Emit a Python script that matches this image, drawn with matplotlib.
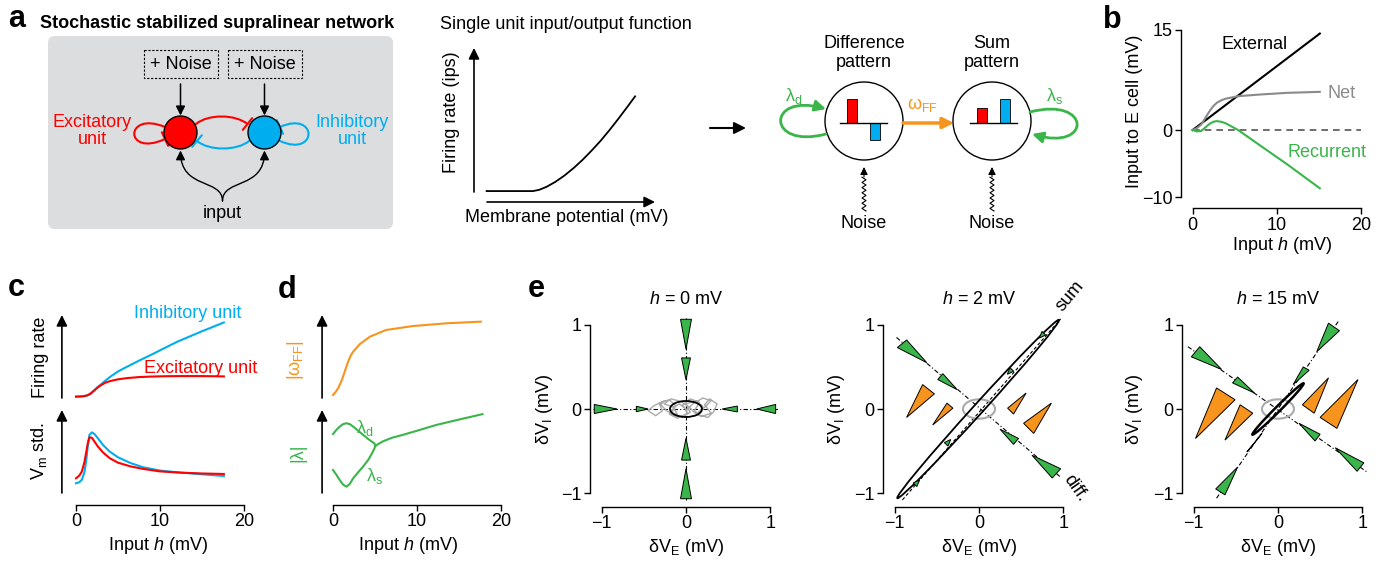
import numpy as np
import matplotlib
matplotlib.use("Agg")
import matplotlib.pyplot as plt
import matplotlib.patches as patches
from matplotlib.path import Path

plt.rcParams['font.family'] = 'Liberation Sans'
plt.rcParams['mathtext.fontset'] = 'custom'
plt.rcParams['mathtext.rm'] = 'Liberation Sans'
plt.rcParams['mathtext.it'] = 'Liberation Sans:italic'
plt.rcParams['mathtext.bf'] = 'Liberation Sans:bold'
plt.rcParams['font.size'] = 13
plt.rcParams['axes.linewidth'] = 1.0

RED = '#ff0000'
BLUE = '#00aeef'
GREEN = '#39b54a'
ORANGE = '#f7941d'
GRAY = '#8a8a8a'

# ---------------- data ----------------
# a: single unit input/output function (arbitrary units)
io_v = [0.7, 1.5, 2.5, 3.26, 3.6, 4.0, 4.5, 5.0, 5.5, 6.0, 6.5, 7.0, 7.5, 8.0, 8.5, 8.9]
io_rate = [0.71, 0.71, 0.71, 0.71, 0.79, 0.98, 1.31, 1.72, 2.2, 2.74, 3.34, 3.98, 4.69, 5.44,
           6.22, 6.86]
# a: E / I components of the difference and sum patterns
pattern_units = [0, 1]
diff_pattern = [1.0, -0.7]
sum_pattern = [0.63, 1.0]

# b: input to E cell (mV) vs input h (mV)
b_h_ext = [0, 15.1]
b_ext = [0, 14.4]
b_h = [0, 0.5, 1.0, 1.3, 1.7, 2.1, 2.5, 2.9, 3.5, 4.0, 5.4, 8.0, 11.2, 15.1]
b_net = [0, 0.28, 0.8, 1.39, 2.2, 3.0, 3.63, 4.1, 4.5, 4.7, 5.05, 5.3, 5.55, 5.7]
b_rec = [0, -0.2, -0.15, 0.15, 0.6, 1.0, 1.25, 1.33, 1.2, 0.95, 0.0, -2.3, -5.1, -8.7]

# c: firing rates (a.u.)
c_h_rate = [0, 0.8, 1.3, 1.7, 2.1, 2.5, 2.9, 3.5, 4.1, 5.0, 6.1, 7.5, 8.9, 10.5, 12.1, 14.9, 17.6]
c_rate_I = [0.016, 0.02, 0.03, 0.05, 0.085, 0.125, 0.157, 0.21, 0.257, 0.32, 0.378, 0.45, 0.518,
            0.60, 0.68, 0.80, 0.91]
c_rate_E = [0.016, 0.02, 0.03, 0.05, 0.085, 0.12, 0.15, 0.185, 0.205, 0.225, 0.24, 0.252, 0.258,
            0.262, 0.264, 0.264, 0.26]
# c: membrane potential std (a.u.)
c_h_std = [0, 0.4, 0.7, 1.0, 1.2, 1.4, 1.6, 1.9, 2.2, 2.6, 3.2, 4.0, 5.0, 6.5, 8.0, 10, 12.5, 15, 17.6]
c_std_I = [0.117, 0.13, 0.16, 0.25, 0.38, 0.56, 0.70, 0.73, 0.71, 0.66, 0.58, 0.50, 0.43, 0.36,
           0.31, 0.27, 0.245, 0.225, 0.205]
c_std_E = [0.177, 0.21, 0.26, 0.37, 0.48, 0.60, 0.67, 0.665, 0.62, 0.56, 0.49, 0.42, 0.365, 0.32,
           0.29, 0.26, 0.245, 0.235, 0.229]

# d: feedforward weight and eigenvalue magnitudes (a.u.)
d_h_w = [0, 0.3, 0.6, 0.9, 1.2, 1.5, 1.8, 2.1, 2.4, 3.2, 4.4, 6.3, 9.5, 13.5, 17.6]
d_w = [0.036, 0.07, 0.117, 0.18, 0.257, 0.35, 0.438, 0.51, 0.558, 0.65, 0.739, 0.819, 0.867, 0.9, 0.92]
d_h_split = [0, 0.4, 0.8, 1.2, 1.6, 2.0, 2.4, 3.0, 3.6, 4.2, 4.6, 4.9, 5.05]
d_lam_d = [0.71, 0.76, 0.80, 0.83, 0.84, 0.83, 0.80, 0.75, 0.70, 0.65, 0.62, 0.60, 0.57]
d_lam_s = [0.277, 0.22, 0.157, 0.10, 0.076, 0.11, 0.177, 0.25, 0.32, 0.40, 0.47, 0.53, 0.57]
d_h_merged = [5.05, 5.9, 7.0, 8.3, 10, 12.3, 15, 17.8]
d_lam_merged = [0.57, 0.62, 0.665, 0.70, 0.75, 0.82, 0.885, 0.95]

# e: flow triangles (vertices in mV), ellipses (cx, cy, w, h, angle), trajectory
e0_green = [
    [(-0.065, 1.066), (0.065, 1.066), (0, 0.71)],
    [(-0.053, 0.607), (0.053, 0.607), (0, 0.347)],
    [(-0.065, -1.066), (0.065, -1.066), (0, -0.71)],
    [(-0.053, -0.607), (0.053, -0.607), (0, -0.347)],
    [(-1.09, 0.054), (-1.09, -0.054), (-0.82, 0)],
    [(-0.59, 0.032), (-0.59, -0.032), (-0.45, 0)],
    [(1.065, 0.054), (1.065, -0.054), (0.84, 0)],
    [(0.61, 0.035), (0.61, -0.035), (0.43, 0)],
]
e0_ellipse = (0.0, 0.0, 0.38, 0.19, 0)
e0_traj_x = [0.0, -0.08, -0.15, -0.1, -0.22, -0.3, -0.25, -0.38, -0.45, -0.36, -0.28, -0.32, -0.2,
             -0.12, -0.18, -0.05, 0.05, 0.0, 0.12, 0.2, 0.14, 0.26, 0.33, 0.37, 0.28, 0.22, 0.3,
             0.18, 0.1, 0.16, 0.05, -0.04, 0.02, -0.1, -0.2, -0.14, -0.26, -0.18, -0.06, 0.04,
             0.12, 0.22, 0.3, 0.2, 0.08, 0.0]
e0_traj_y = [0.0, 0.06, 0.02, -0.07, -0.03, 0.05, 0.1, 0.04, -0.02, -0.08, -0.02, 0.07, 0.11,
             0.04, -0.06, -0.1, -0.04, 0.06, 0.1, 0.03, -0.07, -0.1, -0.03, 0.06, 0.12, 0.05,
             -0.05, -0.09, -0.02, 0.08, 0.12, 0.05, -0.05, -0.11, -0.06, 0.02, 0.06, 0.12, 0.09,
             0.02, -0.06, 0.02, 0.1, 0.13, 0.06, -0.02]

e2_green = [
    [(-0.86, 0.82), (-0.97, 0.73), (-0.62, 0.55)],
    [(-0.43, 0.42), (-0.49, 0.35), (-0.26, 0.23)],
    [(0.47, -0.35), (0.41, -0.42), (0.25, -0.24)],
    [(0.97, -0.71), (0.87, -0.82), (0.63, -0.55)],
    [(0.748, 0.921), (0.792, 0.879), (0.716, 0.842)],
    [(0.368, 0.491), (0.412, 0.449), (0.336, 0.412)],
    [(-0.412, -0.399), (-0.368, -0.441), (-0.336, -0.362)],
    [(-0.782, -0.879), (-0.738, -0.921), (-0.706, -0.842)],
]
e2_orange = [
    [(-0.67, 0.29), (-0.53, 0.18), (-0.86, -0.10)],
    [(-0.38, 0.07), (-0.31, 0.01), (-0.55, -0.19)],
    [(0.34, 0.01), (0.41, -0.06), (0.56, 0.19)],
    [(0.53, -0.17), (0.65, -0.29), (0.86, 0.07)],
]
e2_ellipse = (-0.01, 0.0, 2.86, 0.12, 47.8)
e2_diff_x, e2_diff_y = [-0.98, 0.97], [0.85, -0.81]
e2_sum_x, e2_sum_y = [-0.91, 0.97], [-1.08, 1.07]

e15_green = [
    [(-0.93, 0.74), (-1.03, 0.62), (-0.67, 0.47)],
    [(-0.48, 0.38), (-0.54, 0.31), (-0.28, 0.19)],
    [(0.5, -0.3), (0.44, -0.38), (0.25, -0.17)],
    [(1.02, -0.64), (0.94, -0.74), (0.68, -0.46)],
    [(0.6, 1.02), (0.73, 0.93), (0.46, 0.68)],
    [(0.3, 0.5), (0.37, 0.46), (0.18, 0.29)],
    [(-0.37, -0.51), (-0.3, -0.43), (-0.19, -0.29)],
    [(-0.74, -0.95), (-0.63, -1.02), (-0.48, -0.69)],
]
e15_orange = [
    [(-0.73, 0.25), (-0.51, 0.11), (-0.98, -0.35)],
    [(-0.45, 0.05), (-0.3, -0.05), (-0.63, -0.37)],
    [(0.29, 0.05), (0.43, -0.05), (0.6, 0.37)],
    [(0.5, -0.1), (0.7, -0.23), (0.95, 0.35)],
]
e15_ellipse = (0.0, 0.0, 0.86, 0.06, 45)
e15_diff_x, e15_diff_y = [-1.07, 1.06], [0.74, -0.75]
e15_sum_x, e15_sum_y = [-0.73, 0.73], [-1.06, 1.06]

h0_ellipse = (0.0, 0.0, 0.38, 0.23, 0)

# ---------------- figure ----------------
W, H = 1387, 565
fig = plt.figure(figsize=(W / 100, H / 100), dpi=100)


def px_axes(l, t, r, b):
    ax = fig.add_axes([l / W, 1 - b / H, (r - l) / W, (b - t) / H])
    ax.patch.set_alpha(0)
    return ax


# overlay in pixel coordinates for the schematics and panel letters
ov = px_axes(0, 0, W, H)
ov.set_xlim(0, W)
ov.set_ylim(H, 0)
ov.axis('off')

HEAD = '-|>,head_length=0.5,head_width=0.25'
BAR = '-[,widthB=0.45,lengthB=0'
C4 = [Path.MOVETO, Path.CURVE4, Path.CURVE4, Path.CURVE4]


def curve_arrow(verts, color, style, lw=1.5, ms=12):
    ov.add_patch(patches.FancyArrowPatch(path=Path(verts, C4), arrowstyle=style, mutation_scale=ms,
                                         color=color, lw=lw, zorder=2))


def straight_arrow(ax, start, end, color='k', lw=1.2, ms=12, style=HEAD):
    ax.annotate('', xy=end, xytext=start, annotation_clip=False,
                arrowprops=dict(arrowstyle=style, color=color, lw=lw, mutation_scale=ms,
                                shrinkA=0, shrinkB=0))


for letter, x, y in [('a', 8, 27), ('b', 1103, 28), ('c', 8, 296), ('d', 278, 298), ('e', 528, 297)]:
    ov.text(x, y, letter, fontsize=22, fontweight='bold')

# ---- a: network schematic ----
ov.text(40, 28, 'Stochastic stabilized supralinear network', fontsize=13, fontweight='bold')
ov.add_patch(patches.FancyBboxPatch((48, 36), 345, 193, boxstyle='round,pad=0,rounding_size=7',
                                    fc='#dcdddf', ec='none', zorder=0))
for cx in (180.5, 264.5):
    ov.add_patch(patches.Rectangle((cx - 37, 50), 74, 28, fill=False, ec='k', lw=0.8,
                                   ls=(0, (2, 1.5))))
    ov.text(cx, 64.5, '+ Noise', ha='center', va='center')
    straight_arrow(ov, (cx, 84), (cx, 115.5), lw=1.1, ms=11)
    curve_arrow([(222.5, 201), (222.5, 178), (cx, 190), (cx, 150.5)], 'k', HEAD, lw=1.0, ms=11)

curve_arrow([(196, 124), (208, 114), (235, 114), (247.5, 124)], RED, BAR)
curve_arrow([(249, 141), (237, 151), (209, 151), (197, 141)], BLUE, BAR)
curve_arrow([(165, 127), (124, 110), (124, 158), (165, 139)], RED, BAR)
curve_arrow([(280, 141), (318, 158), (318, 110), (280, 127)], BLUE, BAR)
ov.add_patch(patches.Circle((180.5, 132.5), 16.5, fc=RED, ec='k', lw=1, zorder=3))
ov.add_patch(patches.Circle((264.5, 132.5), 16.5, fc=BLUE, ec='k', lw=1, zorder=3))
ov.text(92, 131, 'Excitatory\nunit', color=RED, ha='center', va='center', linespacing=1.05)
ov.text(352, 131, 'Inhibitory\nunit', color=BLUE, ha='center', va='center', linespacing=1.05)
ov.text(222.5, 214, 'input', ha='center', va='center')

# ---- a: single unit input/output function ----
ov.text(440, 29, 'Single unit input/output function')
io = px_axes(474, 48, 655, 202)
io.set_xlim(0, 10)
io.set_ylim(0, 10)
for s in io.spines.values():
    s.set_visible(False)
io.set_xticks([])
io.set_yticks([])
io.plot(io_v, io_rate, color='k', lw=1.3)
straight_arrow(io, (0, 0.65), (0, 10), lw=1.2, ms=13)
straight_arrow(io, (0.72, 0), (10, 0), lw=1.2, ms=13)
io.set_ylabel('Firing rate (ips)')
io.yaxis.set_label_coords(460, 112, transform=ov.transData)
io.set_xlabel('Membrane potential (mV)')
io.xaxis.set_label_coords(567, 209, transform=ov.transData)

straight_arrow(ov, (710, 128), (746, 128), lw=1.5, ms=14)

# ---- a: difference / sum pattern schematic ----
for cx, title, vals, left in [(864, 'Difference\npattern', diff_pattern, 838),
                              (992, 'Sum\npattern', sum_pattern, 968)]:
    ov.add_patch(patches.Circle((cx, 121), 39, fc='white', ec='k', lw=1, zorder=1))
    ov.text(cx, 53, title, ha='center', va='center', linespacing=1.1)
    bx = px_axes(left, 97, left + 51, 149)
    bx.set_xlim(-0.6, 1.6)
    bx.set_ylim(-1.083, 1.083)
    bx.axis('off')
    bx.bar(pattern_units, vals, width=0.45, color=[RED, BLUE], edgecolor='k', lw=0.6, zorder=2)
    bx.axhline(0, xmin=0.04, xmax=0.96, color='k', lw=1, zorder=3)
    # wavy noise input
    ys = np.arange(211, 176, -2.6)
    xs = cx + np.where(np.arange(len(ys)) % 2 == 0, 2.0, -2.0)
    ov.plot(xs, ys, color='k', lw=0.8)
    straight_arrow(ov, (cx, 177), (cx, 167), lw=0.8, ms=9)
    ov.text(cx, 223, 'Noise', ha='center', va='center')

curve_arrow([(826, 134), (766, 150), (766, 92), (826, 109)], GREEN, HEAD, lw=2.0, ms=13)
curve_arrow([(1030, 112), (1092, 96), (1092, 152), (1032, 134)], GREEN, HEAD, lw=2.0, ms=13)
ov.text(794, 96, r'λ$_\mathrm{d}$', color=GREEN, ha='center', va='center')
ov.text(1055, 96, r'λ$_\mathrm{s}$', color=GREEN, ha='center', va='center')
straight_arrow(ov, (903, 123), (954, 123), color=ORANGE, lw=2.5, ms=13)
ov.text(923, 105, r'ω$_\mathrm{FF}$', color=ORANGE, ha='center', va='center')

# ---- b ----
axb = px_axes(1179.2, 19.5, 1369.5, 210.4)
axb.set_xlim(-1.6, 21)
axb.set_ylim(-12, 16.5)
for s in ['top', 'right']:
    axb.spines[s].set_visible(False)
axb.spines['left'].set_position(('data', -1.39))
axb.spines['left'].set_bounds(-10, 15)
axb.spines['bottom'].set_position(('data', -11.7))
axb.spines['bottom'].set_bounds(0, 20)
axb.set_yticks([-10, 0, 15])
axb.set_xticks([0, 10, 20])
axb.tick_params(length=4, width=1, pad=2)
axb.plot([0, 20], [0, 0], color='#555555', lw=1.2, dashes=(4, 3))
axb.plot(b_h_ext, b_ext, color='k', lw=1.5)
axb.plot(b_h, b_net, color=GRAY, lw=1.5)
axb.plot(b_h, b_rec, color=GREEN, lw=1.5)
axb.text(7.4, 12.7, 'External', ha='center', va='center')
axb.text(17.7, 5.4, 'Net', color=GRAY, ha='center', va='center')
axb.text(15.9, -3.4, 'Recurrent', color=GREEN, ha='center', va='center')
axb.set_ylabel('Input to E cell (mV)')
axb.yaxis.set_label_coords(1143, 111, transform=ov.transData)
axb.set_xlabel(r'Input $h$ (mV)')
axb.xaxis.set_label_coords(1282, 235, transform=ov.transData)


# ---- c, d: stacked arrow-axis panels ----
def arrow_panel(x0, t, b, ylim, arrow_x, xaxis=False):
    ax = px_axes(x0 - 2 * 8.4, t, x0 + 21 * 8.4, b)
    ax.set_xlim(-2, 21)
    ax.set_ylim(*ylim)
    for s in ['top', 'right', 'left']:
        ax.spines[s].set_visible(False)
    ax.set_yticks([])
    straight_arrow(ax, (arrow_x, 0), (arrow_x, 1.0), lw=1.2, ms=13)
    if xaxis:
        ax.spines['bottom'].set_position(('data', -0.145))
        ax.spines['bottom'].set_bounds(0, 20)
        ax.set_xticks([0, 10, 20])
        ax.tick_params(length=4, width=1, pad=2)
    else:
        ax.spines['bottom'].set_visible(False)
        ax.set_xticks([])
    return ax


c1 = arrow_panel(76, 315, 398, (0, 1), -1.68)
c1.plot(c_h_rate, c_rate_I, color=BLUE, lw=1.5)
c1.plot(c_h_rate, c_rate_E, color=RED, lw=1.5)
c1.text(13.35, 1.02, 'Inhibitory unit', color=BLUE, ha='center', va='center')
c1.text(14.85, 0.36, 'Excitatory unit', color=RED, ha='center', va='center')
c1.set_ylabel('Firing rate')
c1.yaxis.set_label_coords(49, 357, transform=ov.transData)

c2 = arrow_panel(76, 410, 507, (-0.169, 1), -1.68, xaxis=True)
c2.plot(c_h_std, c_std_I, color=BLUE, lw=1.5)
c2.plot(c_h_std, c_std_E, color=RED, lw=1.5)
c2.set_ylabel(r'V$_\mathrm{m}$ std.')
c2.yaxis.set_label_coords(49, 451, transform=ov.transData)
c2.set_xlabel(r'Input $h$ (mV)')
c2.xaxis.set_label_coords(158, 535, transform=ov.transData)

d1 = arrow_panel(333, 315, 398, (0, 1), -1.3)
d1.plot(d_h_w, d_w, color=ORANGE, lw=1.5)
d1.set_ylabel(r'|ω$_\mathrm{FF}$|', color=ORANGE)
d1.yaxis.set_label_coords(306, 360, transform=ov.transData)

d2 = arrow_panel(333, 410, 507, (-0.169, 1), -1.3, xaxis=True)
d2.plot(d_h_split, d_lam_d, color=GREEN, lw=1.5)
d2.plot(d_h_split, d_lam_s, color=GREEN, lw=1.5)
d2.plot(d_h_merged, d_lam_merged, color=GREEN, lw=1.5)
d2.text(3.8, 0.78, r'λ$_\mathrm{d}$', color=GREEN, ha='center', va='center')
d2.text(5.0, 0.2, r'λ$_\mathrm{s}$', color=GREEN, ha='center', va='center')
d2.set_ylabel('|λ|', color=GREEN)
d2.yaxis.set_label_coords(306, 453, transform=ov.transData)
d2.set_xlabel(r'Input $h$ (mV)')
d2.xaxis.set_label_coords(408, 535, transform=ov.transData)


# ---- e: phase planes ----
def phase_axes(cx, title, ylab_x):
    ax = px_axes(cx - 101, 409 - 101, cx + 101, 409 + 101)
    ax.set_xlim(-1.2, 1.2)
    ax.set_ylim(-1.2, 1.2)
    for s in ['top', 'right']:
        ax.spines[s].set_visible(False)
    ax.spines['left'].set_position(('data', -1.14))
    ax.spines['left'].set_bounds(-1, 1)
    ax.spines['bottom'].set_position(('data', -1.16))
    ax.spines['bottom'].set_bounds(-1, 1)
    ax.set_xticks([-1, 0, 1])
    ax.set_yticks([-1, 0, 1])
    ax.tick_params(length=4, width=1, pad=2)
    ax.text(0, 1.30, title, ha='center', va='center', clip_on=False)
    ax.set_xlabel(r'δV$_\mathrm{E}$ (mV)')
    ax.xaxis.set_label_coords(cx, 537, transform=ov.transData)
    ax.set_ylabel(r'δV$_\mathrm{I}$ (mV)')
    ax.yaxis.set_label_coords(ylab_x, 409, transform=ov.transData)
    return ax


def draw_tris(ax, tris, color):
    for tri in tris:
        ax.add_patch(patches.Polygon(tri, closed=True, fc=color, ec='k', lw=0.7, zorder=4,
                                     clip_on=False))


def draw_ellipse(ax, e, color, lw):
    ax.add_patch(patches.Ellipse((e[0], e[1]), e[2], e[3], angle=e[4], fill=False, ec=color,
                                 lw=lw, zorder=3))


DASHDOT = (0, (4, 2, 1, 2))

ea = phase_axes(686, r'$h$ = 0 mV', 555)
ea.plot([-1.1, 1.1], [0, 0], color='k', lw=0.8, ls=DASHDOT)
ea.plot([0, 0], [-1.08, 1.08], color='k', lw=0.8, ls=DASHDOT)
ea.plot(e0_traj_x, e0_traj_y, color='#aaaaaa', lw=1.0, zorder=2)
draw_ellipse(ea, e0_ellipse, 'k', 1.3)
draw_tris(ea, e0_green, GREEN)

eb = phase_axes(979, r'$h$ = 2 mV', 847)
eb.plot(e2_diff_x, e2_diff_y, color='k', lw=0.8, ls=DASHDOT)
eb.plot(e2_sum_x, e2_sum_y, color='k', lw=0.8, ls=(0, (3, 2)))
draw_ellipse(eb, h0_ellipse, '#aaaaaa', 1.5)
draw_ellipse(eb, e2_ellipse, 'k', 1.3)
draw_tris(eb, e2_green, GREEN)
draw_tris(eb, e2_orange, ORANGE)
eb.text(1.08, 1.34, 'sum', rotation=50, ha='center', va='center', clip_on=False)
eb.text(1.14, -0.94, 'diff.', rotation=-55, ha='center', va='center', clip_on=False)

ec = phase_axes(1278, r'$h$ = 15 mV', 1145)
ec.plot(e15_diff_x, e15_diff_y, color='k', lw=0.8, ls=DASHDOT)
ec.plot(e15_sum_x, e15_sum_y, color='k', lw=0.8, ls=DASHDOT)
draw_ellipse(ec, h0_ellipse, '#aaaaaa', 1.5)
draw_ellipse(ec, e15_ellipse, 'k', 1.8)
draw_tris(ec, e15_green, GREEN)
draw_tris(ec, e15_orange, ORANGE)

fig.savefig('out.png', dpi=100)
